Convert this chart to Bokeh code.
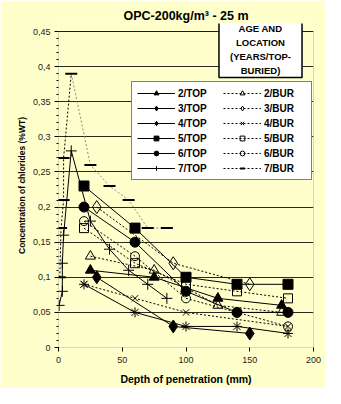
from bokeh.plotting import figure
from bokeh.models import Range1d, FixedTicker, Legend, LegendItem, Label, BoxAnnotation
from bokeh.embed import file_html
from bokeh.resources import INLINE

# ---- data (depth in mm, chloride concentration in % wt) ----
depth_2 = [25, 75, 125, 175]
top_2 = [0.11, 0.10, 0.07, 0.06]
bur_2 = [0.13, 0.11, 0.06, 0.05]

depth_3 = [30, 90, 150]
top_3 = [0.10, 0.03, 0.02]
bur_3 = [0.20, 0.12, 0.09]

depth_4_top = [20, 60, 100, 140, 180]
top_4 = [0.09, 0.05, 0.03, 0.03, 0.02]
depth_4_bur = [20, 60, 100, 180]
bur_4 = [0.09, 0.07, 0.05, 0.03]

depth_5 = [20, 60, 100, 140, 180]
top_5 = [0.23, 0.17, 0.10, 0.09, 0.09]
bur_5 = [0.17, 0.12, 0.09, 0.08, 0.07]

depth_6 = [20, 60, 100, 140, 180]
top_6 = [0.20, 0.15, 0.08, 0.05, 0.05]
bur_6 = [0.18, 0.13, 0.07, 0.05, 0.03]

depth_7_top = [0.5, 3, 3, 4, 10, 25, 40, 55, 70, 85]
top_7 = [0.06, 0.08, 0.12, 0.16, 0.28, 0.18, 0.14, 0.11, 0.09, 0.07]
depth_7_bur = [1, 2, 4, 4, 10, 25, 40, 55, 70, 85]
bur_7 = [0.10, 0.17, 0.21, 0.27, 0.39, 0.26, 0.23, 0.21, 0.17, 0.17]

x_ticks = [0, 50, 100, 150, 200]
y_ticks = [0, 0.05, 0.10, 0.15, 0.20, 0.25, 0.30, 0.35, 0.40, 0.45]
y_tick_labels = ["0", "0,05", "0,1", "0,15", "0,2", "0,25", "0,3", "0,35", "0,4", "0,45"]
y_minor = [i / 100 for i in range(0, 46)]
x_max = 200
y_max = 0.45

title_text = "OPC-200kg/m\u00b3 - 25 m"
legend_title = "AGE AND\nLOCATION\n(YEARS/TOP-\nBURIED)"

BG = "#FFFFCC"
FONT = "Liberation Sans"
K = "#000000"
DOT = "2 2"

# frame extends 8px above the 0.45 line so that the caption box may overlap the top border
FRAME_TOP, FRAME_BOTTOM = 23, 347
y_top = y_max * (FRAME_BOTTOM - FRAME_TOP) / (FRAME_BOTTOM - 31)

p = figure(width=325, height=388, output_backend="svg", toolbar_location=None,
           x_range=Range1d(0, x_max), y_range=Range1d(0, y_top),
           min_border_left=58, min_border_right=12, min_border_top=FRAME_TOP,
           min_border_bottom=388 - FRAME_BOTTOM,
           background_fill_color=BG, border_fill_color=BG)
p.outline_line_color = None

p.title.text = title_text
p.title.align = "center"
p.title.text_font = FONT
p.title.text_font_size = "12.5px"
p.title.text_font_style = "bold"
p.title.text_color = K
p.title.offset = 0
p.title.standoff = 2

# axes
p.xaxis.ticker = FixedTicker(ticks=x_ticks)
p.yaxis.ticker = FixedTicker(ticks=y_ticks, minor_ticks=y_minor)
p.yaxis.major_label_overrides = {v: s for v, s in zip(y_ticks, y_tick_labels)}
for ax in (p.xaxis, p.yaxis):
    ax.axis_line_color = None
    ax.major_tick_line_color = K
    ax.minor_tick_line_color = K
    ax.major_tick_in = 0
    ax.major_tick_out = 4
    ax.minor_tick_in = 0
    ax.minor_tick_out = 2
    ax.major_label_text_font = FONT
    ax.major_label_text_font_size = "9px"
    ax.major_label_text_color = "#222222"
    ax.axis_label_text_font = FONT
    ax.axis_label_text_font_style = "bold"
    ax.axis_label_text_color = K
p.xaxis.minor_tick_line_color = None
p.xaxis.axis_label = "Depth of penetration (mm)"
p.xaxis.axis_label_text_font_size = "10.5px"
p.xaxis.major_label_standoff = 5
p.xaxis.axis_label_standoff = 7
p.yaxis.axis_label = "Concentration of chlorides (%WT)"
p.yaxis.axis_label_text_font_size = "8.5px"
p.yaxis.major_label_standoff = 4
p.yaxis.axis_label_standoff = 3

p.xgrid.visible = False
p.ygrid.ticker = FixedTicker(ticks=y_ticks)
p.ygrid.grid_line_color = "#2a2a20"
p.ygrid.grid_line_width = 1

# plot border drawn at the data limits
p.add_layout(BoxAnnotation(left=0, right=x_max, bottom=0, top=y_max,
                           fill_alpha=0, line_color=K, line_width=1, level="underlay"))


def series(x, y, marker, size, filled, dotted, lw=1, mlw=1, color=K):
    line = p.line(x, y, line_color=color, line_width=lw, line_dash=DOT if dotted else "solid")
    pts = p.scatter(x, y, marker=marker, size=size, fill_color=K if filled else None,
                    line_color=K, line_width=mlw)
    return [line, pts]


r2t = series(depth_2, top_2, "triangle", 10, True, False)
r3t = series(depth_3, top_3, "diamond", 13, True, False)
r4t = series(depth_4_top, top_4, "asterisk", 10, False, False)
r5t = series(depth_5, top_5, "square", 10, True, False)
r6t = series(depth_6, top_6, "circle", 10, True, False)
r7t = series(depth_7_top, top_7, "cross", 11, False, False)

r2b = series(depth_2, bur_2, "triangle", 10, False, True)
r3b = series(depth_3, bur_3, "diamond", 13, False, True)
r4b = series(depth_4_bur, bur_4, "x", 9, False, True)
r5b = series(depth_5, bur_5, "square", 9, False, True)
r6b = series(depth_6, bur_6, "circle", 9, False, True)
# 7/BUR: rising part black dotted, falling part grey dotted
r7b_rise = p.line(depth_7_bur[:5], bur_7[:5], line_color=K, line_width=1, line_dash=DOT)
r7b = series(depth_7_bur[4:], bur_7[4:], "dash", 12, False, True, mlw=2, color="#8a8a80")
r7b_pts_left = p.scatter(depth_7_bur[:4], bur_7[:4], marker="dash", size=12, line_color=K, line_width=2)
r7b = [r7b_rise, r7b[1]]

items = [
    LegendItem(label="2/TOP", renderers=r2t),
    LegendItem(label="3/TOP", renderers=r3t),
    LegendItem(label="4/TOP", renderers=r4t),
    LegendItem(label="5/TOP", renderers=r5t),
    LegendItem(label="6/TOP", renderers=r6t),
    LegendItem(label="7/TOP", renderers=r7t),
    LegendItem(label="2/BUR", renderers=r2b),
    LegendItem(label="3/BUR", renderers=r3b),
    LegendItem(label="4/BUR", renderers=r4b),
    LegendItem(label="5/BUR", renderers=r5b),
    LegendItem(label="6/BUR", renderers=r6b),
    LegendItem(label="7/BUR", renderers=r7b),
]
legend = Legend(items=items, location=(73, 167), orientation="vertical", ncols=2,
                background_fill_color="#FFFFFF", background_fill_alpha=1,
                border_line_color=K, border_line_width=1.5,
                label_text_font=FONT, label_text_font_size="10px", label_text_font_style="bold",
                label_text_color=K, glyph_width=38, glyph_height=12, label_height=12,
                label_width=42, label_standoff=3, spacing=3, padding=5, margin=0)
p.add_layout(legend)

box = Label(x=202, y=298, x_units="screen", y_units="screen", text=legend_title,
            text_align="center", text_baseline="middle", text_font=FONT,
            text_font_size="9.5px", text_font_style="bold", text_color=K,
            text_line_height=1.3,
            background_fill_color="#FFFFFF", border_line_color=K, border_line_width=1.5,
            padding=dict(left=11, right=11, top=1, bottom=1))
p.add_layout(box)

open("out.html", "w").write(file_html(p, INLINE))
